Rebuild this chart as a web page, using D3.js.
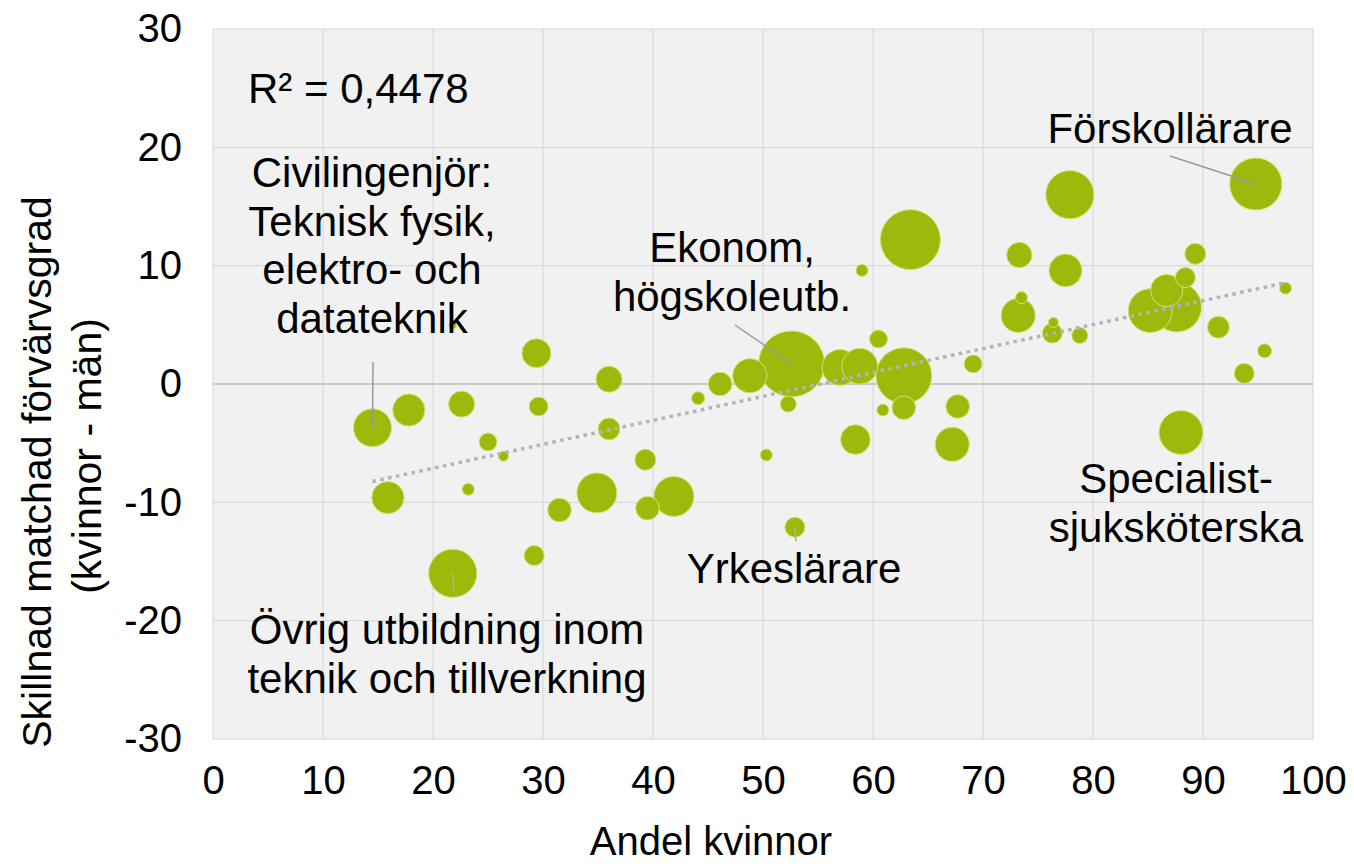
<!DOCTYPE html>
<html><head><meta charset="utf-8">
<script src="https://cdn.jsdelivr.net/npm/d3@7/dist/d3.min.js"></script>
<style>
body{margin:0;background:#fff;}
text{font-family:"Liberation Sans",Arial,sans-serif;fill:#000;}
</style>
</head><body>
<svg id="chart" width="1354" height="866"></svg>
<script>
// ---- data ----
const shareWomen = [14.5,17.8,22.6,29.4,29.6,25.0,26.4,15.9,23.2,21.8,29.2,31.5,36.0,36.0,34.9,39.3,39.5,41.9,44.1,46.1,21.8,48.8,52.6,52.3,50.3,57.0,58.8,60.5,62.8,62.8,60.9,58.4,67.7,67.2,69.1,52.9,59.0,63.4,77.9,94.8,73.3,77.5,73.2,73.5,76.3,76.4,78.8,89.3,88.4,85.2,87.6,86.7,91.4,97.5,95.6,93.75,88.0];
const diffRate   = [-3.7,-2.2,-1.7,2.6,-1.9,-4.9,-6.1,-9.6,-8.9,-16.0,-14.5,-10.65,0.4,-3.8,-9.2,-6.4,-10.5,-9.5,-1.2,0.0,5.0,0.7,1.7,-1.7,-6.0,1.4,1.5,3.8,0.7,-2.0,-2.2,-4.7,-1.9,-5.1,1.7,-12.1,9.6,12.2,16.0,16.9,10.9,9.6,5.8,7.3,4.3,5.2,4.1,11.0,9.0,6.2,6.5,7.9,4.8,8.1,2.8,0.9,-4.1];
const bubbleSize = [36,26,17,21,9,8,2.5,26,3.6,58,10,14,17,12,40,11,14,40,4.2,14,1.6,29,109,6.4,3.6,32,32,8,78,14,3.6,22,14,29,8,10,3.6,90,58,68,16,27,29,3.6,10,2.5,6.4,11,10,48,62,26,12,3.6,4.9,10,48];
const categories = ["Civilingenjör: Teknisk fysik, elektro- och datateknik","","","","","","","","","Övrig utbildning inom teknik och tillverkning","","","","","","","","","","","","","Ekonom, högskoleutb.","","","","","","","","","","","","","Yrkeslärare","","","","Förskollärare","","","","","","","","","","","","","","","","Specialistsjuksköterska"];
const xTicks = [0,10,20,30,40,50,60,70,80,90,100];
const yTicks = [-30,-20,-10,0,10,20,30];
const trendCoef = [0.2024, -11.17]; // slope, intercept of linear trend line
const rSquared = "0,4478";
const xTitle = "Andel kvinnor";
const yTitle = ["Skillnad matchad förvärvsgrad", "(kvinnor -  män)"];

// ---- layout ----
const svg = d3.select("#chart");
const x = d3.scaleLinear().domain([0,100]).range([213,1313]);
const y = d3.scaleLinear().domain([-30,30]).range([739,29]);
const r = d3.scaleSqrt().domain([0, d3.max(bubbleSize)]).range([0,33]);
const fmt = d => String(d); // plain hyphen-minus like the original

const data = shareWomen.map((v,i)=>({x:v, y:diffRate[i], s:bubbleSize[i], name:categories[i]}));

// plot background
svg.append("rect").attr("x",x(0)).attr("y",y(30)).attr("width",x(100)-x(0)).attr("height",y(-30)-y(30)).attr("fill","#f1f1f1");

// gridlines
svg.append("g").selectAll("line").data(xTicks).join("line")
  .attr("x1",d=>x(d)).attr("x2",d=>x(d)).attr("y1",y(30)).attr("y2",y(-30))
  .attr("stroke","#d6d6d6").attr("stroke-width",1);
svg.append("g").selectAll("line").data(yTicks).join("line")
  .attr("x1",x(0)).attr("x2",x(100)).attr("y1",d=>y(d)).attr("y2",d=>y(d))
  .attr("stroke",d=>d===0?"#bcbcbc":"#d6d6d6").attr("stroke-width",d=>d===0?1.3:1);

// axes
const xAxis = svg.append("g").attr("transform",`translate(0,${y(-30)})`)
  .call(d3.axisBottom(x).tickValues(xTicks).tickFormat(fmt).tickSize(0).tickPadding(27));
const yAxis = svg.append("g").attr("transform",`translate(${x(0)},0)`)
  .call(d3.axisLeft(y).tickValues(yTicks).tickFormat(fmt).tickSize(0).tickPadding(31));
[xAxis,yAxis].forEach(a=>{a.select(".domain").remove(); a.selectAll("text").attr("font-size",40).attr("font-family",'"Liberation Sans",Arial,sans-serif').attr("fill","#000");});

// bubbles
const sorted = data.slice().sort((a,b)=>b.s-a.s);
svg.append("g").selectAll("circle").data(sorted).join("circle")
  .attr("cx",d=>x(d.x)).attr("cy",d=>y(d.y)).attr("r",d=>r(d.s))
  .attr("fill","#9cba0c").attr("stroke","#d2e46a").attr("stroke-width",1);

// trend line (over data extent)
const ext = d3.extent(shareWomen);
svg.append("line")
  .attr("x1",x(ext[0])).attr("y1",y(trendCoef[0]*ext[0]+trendCoef[1]))
  .attr("x2",x(ext[1])).attr("y2",y(trendCoef[0]*ext[1]+trendCoef[1]))
  .attr("stroke","#b3b3c0").attr("stroke-width",3.5).attr("stroke-dasharray","3.5,4.5");

// R² label
svg.append("text").attr("x",248).attr("y",103).attr("font-size",42).text("R² = " + rSquared);

// annotations
const byName = n => data.find(d=>d.name===n);
const notes = [
  {name:categories[0], lines:["Civilingenjör:","Teknisk fysik,","elektro- och","datateknik"], cx:372, by:187, lead:[373,362]},
  {name:categories[22], lines:["Ekonom,","högskoleutb."], cx:732, by:262, lead:[735,325]},
  {name:categories[39], lines:["Förskollärare"], cx:1170, by:143, lead:[1170,156]},
  {name:categories[35], lines:["Yrkeslärare"], cx:794, by:583, lead:null, down:14},
  {name:categories[56], lines:["Specialist-","sjuksköterska"], cx:1176, by:493, lead:null},
  {name:categories[9], lines:["Övrig utbildning inom","teknik och tillverkning"], cx:447, by:644, lead:null, down:18}
];
const lh = 48.5;
notes.forEach(n=>{
  const d = byName(n.name);
  if(n.lead){
    svg.append("line").attr("x1",n.lead[0]).attr("y1",n.lead[1]).attr("x2",x(d.x)).attr("y2",y(d.y))
      .attr("stroke","#9a9a9a").attr("stroke-width",1.5);
  } else if(n.down){
    svg.append("line").attr("x1",x(d.x)).attr("y1",y(d.y)).attr("x2",x(d.x)+1).attr("y2",y(d.y)+n.down)
      .attr("stroke","#a8b88a").attr("stroke-width",1.5);
  }
  const t = svg.append("text").attr("text-anchor","middle").attr("font-size",42);
  n.lines.forEach((l,i)=>t.append("tspan").attr("x",n.cx).attr("y",n.by+i*lh).text(l));
});

// axis titles
svg.append("text").attr("x",711).attr("y",855).attr("text-anchor","middle").attr("font-size",40).text(xTitle);
svg.append("text").attr("transform","translate(51,472) rotate(-90)").attr("text-anchor","middle").attr("font-size",41).text(yTitle[0]);
svg.append("text").attr("transform","translate(101,456) rotate(-90)").attr("text-anchor","middle").attr("font-size",41).text(yTitle[1]);
</script>
</body></html>
